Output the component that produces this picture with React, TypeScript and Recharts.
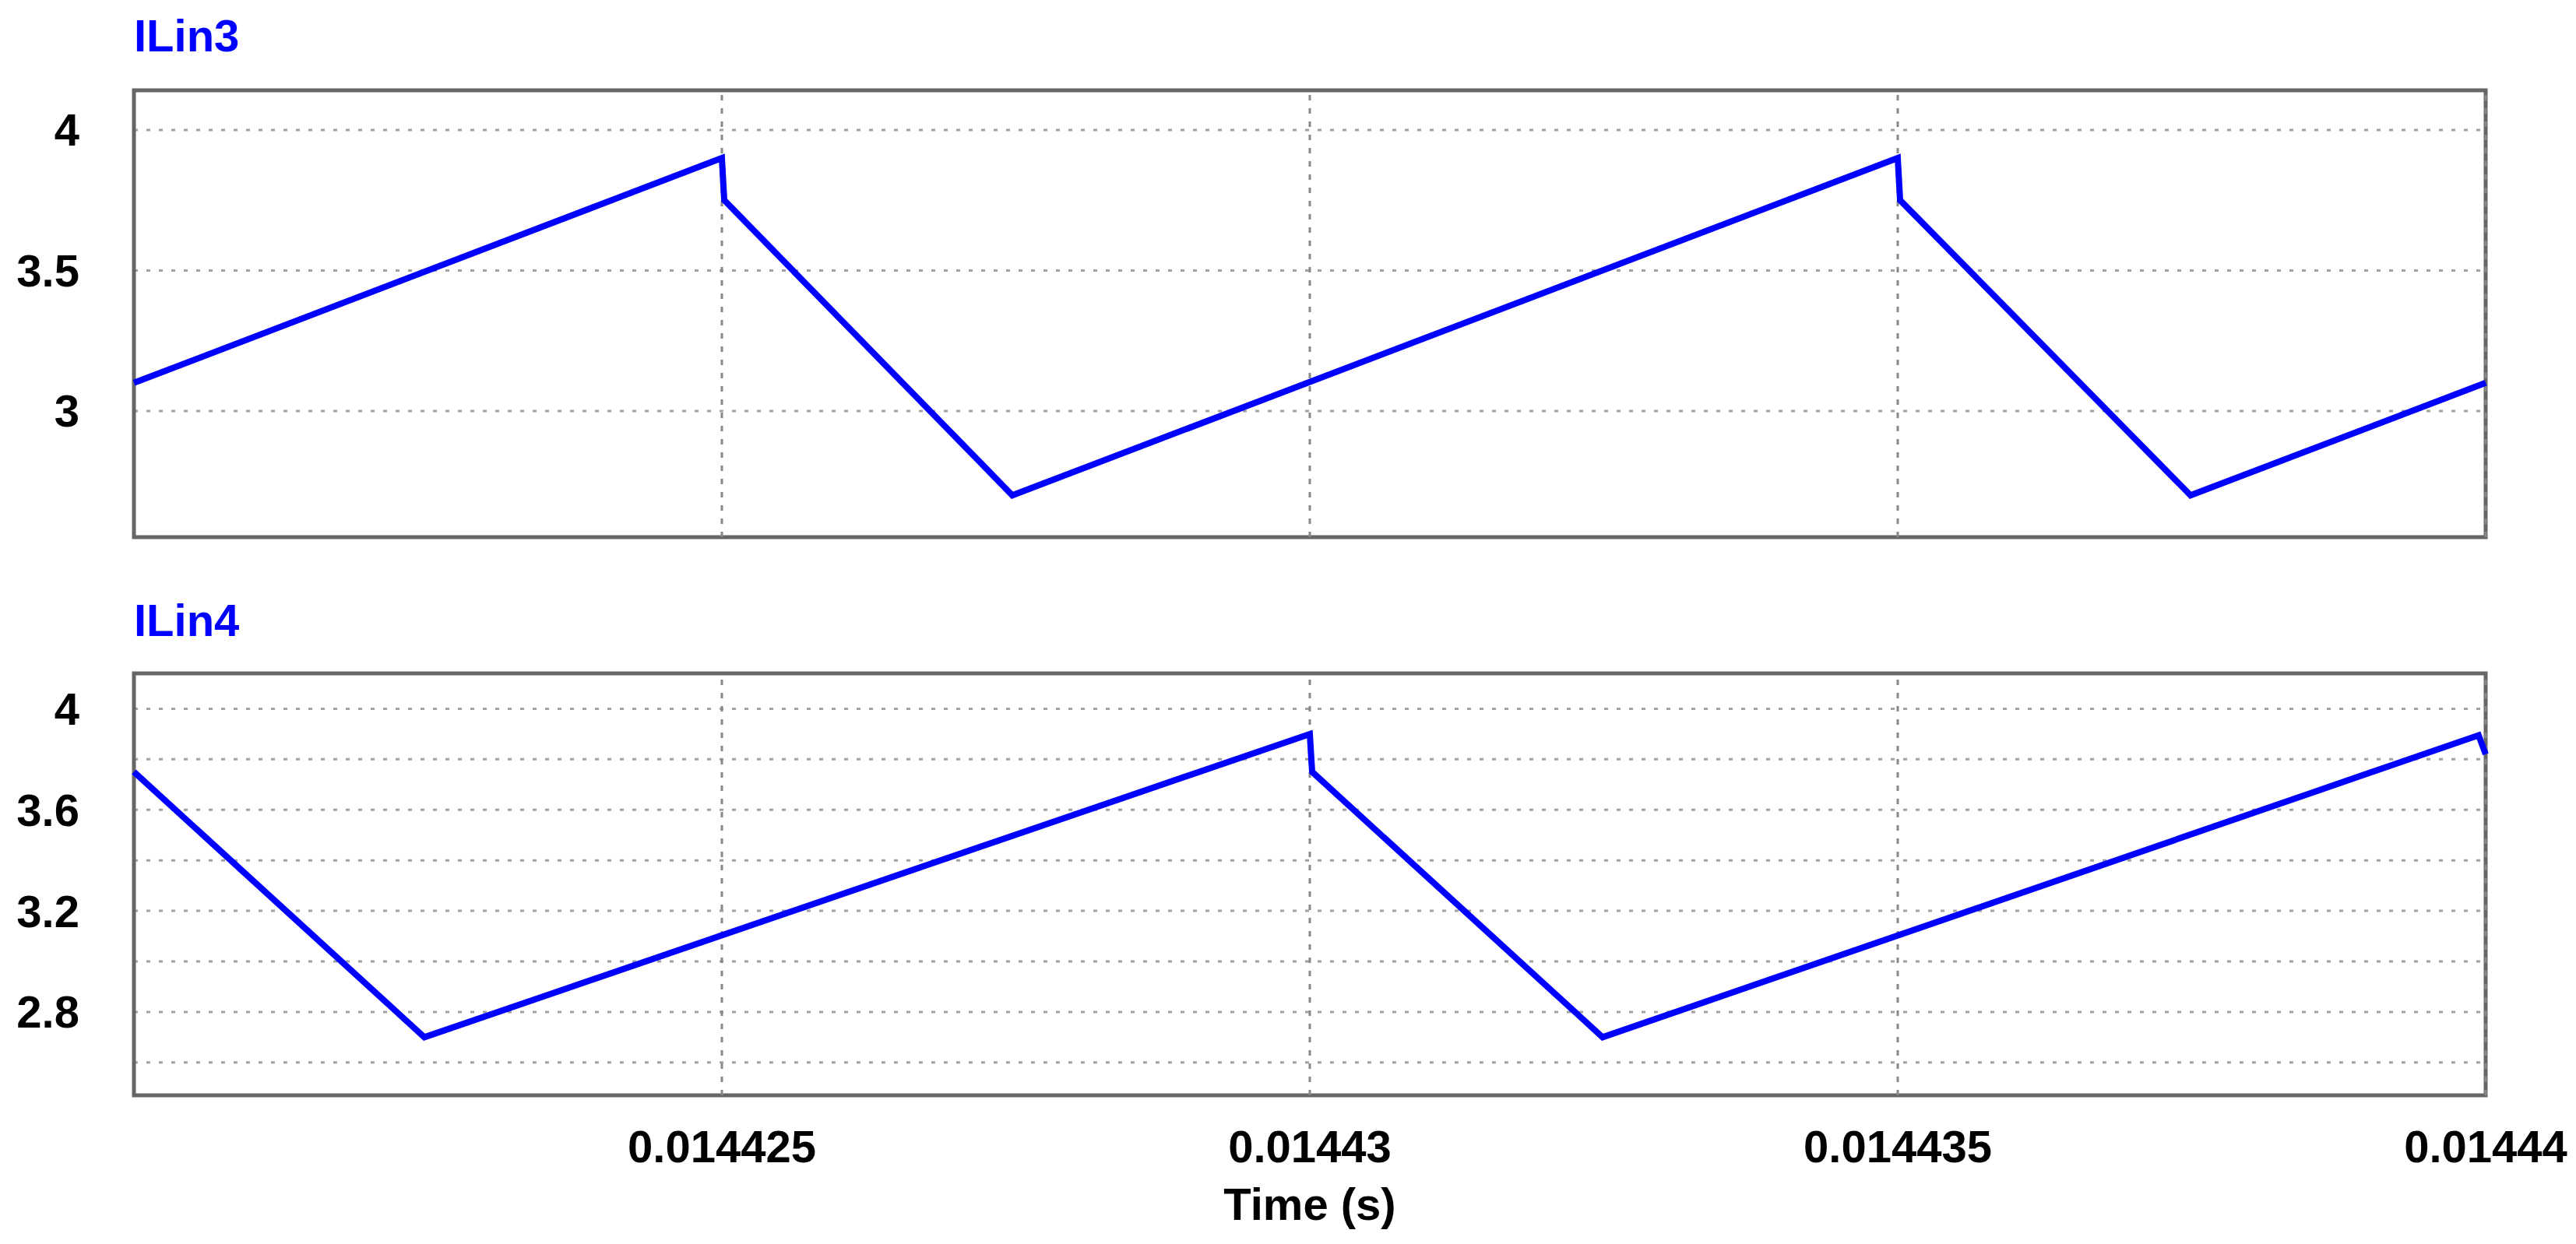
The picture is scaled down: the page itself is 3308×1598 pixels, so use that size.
// Two stacked current waveforms (ILin3 / ILin4) sharing one time axis

import React from 'react';
import {
  LineChart,
  Line,
  XAxis,
  YAxis,
  CartesianGrid,
  ReferenceLine,
  ReferenceArea
} from 'recharts';

// time range shown (s)
const timeDomain: [number, number] = [0.01442, 0.01444];
const timeTicks = [0.014425, 0.01443, 0.014435, 0.01444];

// ILin3 waveform corners
const ilin3Time = [0.01442, 0.014425, 0.01442502, 0.01442747, 0.014435, 0.01443502, 0.01443749, 0.01444];
const ilin3Values = [3.10, 3.90, 3.75, 2.70, 3.90, 3.75, 2.70, 3.10];
const ilin3Domain: [number, number] = [2.551, 4.141];
const ilin3Ticks = [3, 3.5, 4];

// ILin4 waveform corners
const ilin4Time = [0.01442, 0.01442247, 0.01443, 0.01443002, 0.01443249, 0.01443994, 0.01444];
const ilin4Values = [3.75, 2.70, 3.90, 3.75, 2.70, 3.895, 3.82];
const ilin4Domain: [number, number] = [2.47, 4.14];
const ilin4Ticks = [2.6, 2.8, 3, 3.2, 3.4, 3.6, 3.8, 4];
const ilin4Labels = [2.8, 3.2, 3.6, 4];

const FONT = "'Liberation Sans', Arial, sans-serif";
const BLUE = '#0000ff';
const FRAME = '#666666';

const tickStyle = { fill: '#000', fontSize: 58, fontWeight: 'bold', fontFamily: FONT };

const ilin3Data = ilin3Time.map((t, i) => ({ t, v: ilin3Values[i] }));
const ilin4Data = ilin4Time.map((t, i) => ({ t, v: ilin4Values[i] }));

function Title({ text, top }: { text: string; top: number }) {
  return (
    <div
      style={{
        position: 'absolute',
        left: 172,
        top,
        fontFamily: FONT,
        fontWeight: 'bold',
        fontSize: 58,
        lineHeight: '58px',
        color: BLUE
      }}
    >
      {text}
    </div>
  );
}

export default function App() {
  return (
    <div
      style={{
        position: 'absolute',
        left: 0,
        top: 0,
        width: 3308,
        height: 1598,
        background: '#fff',
        overflow: 'hidden'
      }}
    >
      <Title text="ILin3" top={17} />
      <Title text="ILin4" top={768} />

      <div style={{ position: 'absolute', left: 0, top: 0 }}>
        <LineChart
          width={3308}
          height={720}
          data={ilin3Data}
          margin={{ top: 116, right: 116, bottom: 30, left: 0 }}
        >
          <CartesianGrid
            horizontal={true}
            vertical={false}
            stroke="#a0a0a0"
            strokeWidth={3}
            strokeDasharray="5 11"
          />
          <XAxis dataKey="t" type="number" domain={timeDomain} ticks={timeTicks} hide />
          <YAxis
            type="number"
            domain={ilin3Domain}
            ticks={ilin3Ticks}
            width={172}
            axisLine={false}
            tickLine={false}
            tickSize={0}
            tickMargin={70}
            interval={0}
            tick={tickStyle}
          />
          {timeTicks.map((t) => (
            <ReferenceLine key={t} x={t} stroke="#888888" strokeWidth={3} strokeDasharray="7 10" />
          ))}
          <Line
            type="linear"
            dataKey="v"
            stroke={BLUE}
            strokeWidth={8}
            dot={false}
            isAnimationActive={false}
          />
          <ReferenceArea
            x1={timeDomain[0]}
            x2={timeDomain[1]}
            y1={ilin3Domain[0]}
            y2={ilin3Domain[1]}
            fill="none"
            stroke={FRAME}
            strokeWidth={5}
            ifOverflow="visible"
          />
        </LineChart>
      </div>

      <div style={{ position: 'absolute', left: 0, top: 720 }}>
        <LineChart
          width={3308}
          height={878}
          data={ilin4Data}
          margin={{ top: 145, right: 116, bottom: 11, left: 0 }}
        >
          <CartesianGrid
            horizontal={true}
            vertical={false}
            stroke="#a0a0a0"
            strokeWidth={3}
            strokeDasharray="5 11"
          />
          <XAxis
            dataKey="t"
            type="number"
            domain={timeDomain}
            ticks={timeTicks}
            interval={0}
            height={180}
            axisLine={false}
            tickLine={false}
            tickSize={0}
            tickMargin={45}
            tick={tickStyle}
            tickFormatter={(v) => String(v)}
            label={{
              value: 'Time (s)',
              position: 'insideBottom',
              offset: 20,
              fill: '#000',
              fontSize: 58,
              fontWeight: 'bold',
              fontFamily: FONT
            }}
          />
          <YAxis
            type="number"
            domain={ilin4Domain}
            ticks={ilin4Ticks}
            width={172}
            axisLine={false}
            tickLine={false}
            tickSize={0}
            tickMargin={70}
            interval={0}
            tick={tickStyle}
            tickFormatter={(v) => (ilin4Labels.includes(v) ? String(v) : '')}
          />
          {timeTicks.map((t) => (
            <ReferenceLine key={t} x={t} stroke="#888888" strokeWidth={3} strokeDasharray="7 10" />
          ))}
          <Line
            type="linear"
            dataKey="v"
            stroke={BLUE}
            strokeWidth={8}
            dot={false}
            isAnimationActive={false}
          />
          <ReferenceArea
            x1={timeDomain[0]}
            x2={timeDomain[1]}
            y1={ilin4Domain[0]}
            y2={ilin4Domain[1]}
            fill="none"
            stroke={FRAME}
            strokeWidth={5}
            ifOverflow="visible"
          />
        </LineChart>
      </div>
    </div>
  );
}
